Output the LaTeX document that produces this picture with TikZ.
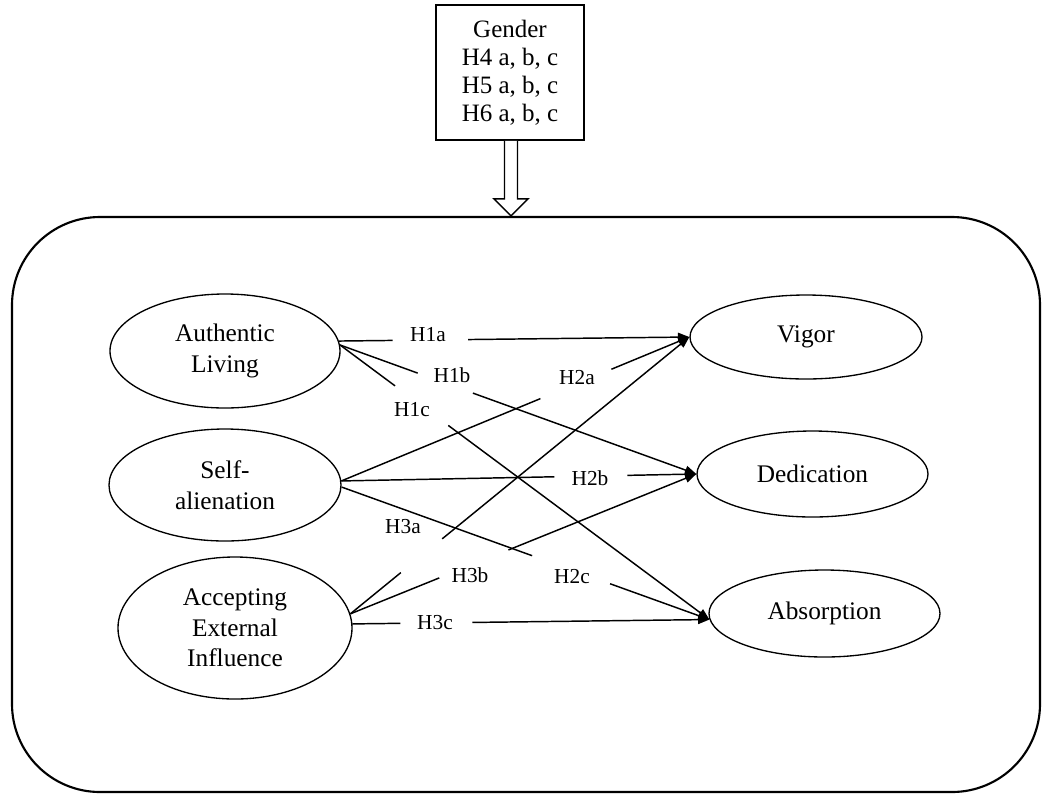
\documentclass[tikz,border=0pt]{standalone}
\usepackage{fontspec}
\setmainfont{Liberation Serif}
\usetikzlibrary{shapes.geometric,arrows.meta,calc}
\begin{document}
\begin{tikzpicture}[x=0.75pt,y=-0.75pt,
  ell/.style={ellipse, draw, line width=1pt, inner sep=0pt, align=center,
    font=\fontsize{19}{23}\selectfont},
  conn/.style={line width=1.1pt, -{Triangle[length=8.5pt,width=6.5pt]}},
  lbl/.style={font=\fontsize{16}{18}\selectfont, inner sep=0pt},
  hollow/.style={line width=1.1pt, fill=white, line join=miter}]
\useasboundingbox (0,0) rectangle (1042,794);

% outer frame
\node[draw, rounded corners=66pt, line width=1.6pt, minimum width=771pt,
  minimum height=431.25pt, inner sep=0pt] (frame) at (526,504.5) {};

% moderator box
\node[draw, line width=1.4pt, minimum width=111pt, minimum height=101.25pt,
  inner sep=0pt, align=center, font=\fontsize{18.75}{21}\selectfont]
  (g) at (510,72.5) {Gender\\H4 a, b, c\\H5 a, b, c\\H6 a, b, c};

% hollow arrow
\coordinate (tip) at ($(g.south |- frame.north)+(1,0)$);
\draw[hollow] ($(g.south)+(-5.5,0)$) -- ($(tip)+(-6.5,-17)$) -- ($(tip)+(-17,-17)$)
  -- (tip) -- ($(tip)+(17,-17)$) -- ($(tip)+(6.5,-17)$) -- ($(g.south)+(7.5,0)$);

% left constructs
\node[ell, minimum width=172.5pt, minimum height=85.5pt] (al) at (225,351) {Authentic\\Living};
\node[ell, minimum width=174pt, minimum height=84pt] (sa) at (225,485) {Self-\\alienation};
\node[ell, minimum width=175.5pt, minimum height=106.5pt] (ae) at (235,628) {Accepting\\External\\Influence};

% right constructs
\node[ell, minimum width=174pt, minimum height=63pt] (vi) at (806,337) {Vigor};
\node[ell, minimum width=173.25pt, minimum height=64.5pt] (de) at (812.5,474) {Dedication};
\node[ell, minimum width=173.25pt, minimum height=65.25pt] (ab) at (824.5,613.5) {Absorption};

% labels
\node[lbl] (h1a) at (428,335) {H1a};
\node[lbl] (h1b) at (452,375) {H1b};
\node[lbl] (h1c) at (412,410) {H1c};
\node[lbl] (h2a) at (577,378) {H2a};
\node[lbl] (h2b) at (590,478) {H2b};
\node[lbl] (h2c) at (572,577) {H2c};
\node[lbl] (h3a) at (403,527) {H3a};
\node[lbl] (h3b) at (470,575) {H3b};
\node[lbl] (h3c) at (435,623) {H3c};

% connectors (each with a gap for its label)
\draw[conn] (al.5) -- ($(al.5)!0.153!(vi.west)$) ($(al.5)!0.369!(vi.west)$) -- (vi.west);
\draw[conn] (al.3) -- ($(al.3)!0.218!(de.west)$) ($(al.3)!0.373!(de.west)$) -- (de.west);
\draw[conn] (al.3) -- ($(al.3)!0.149!(ab.183)$) ($(al.3)!0.293!(ab.183)$) -- (ab.183);

\draw[conn] (sa.2) -- ($(sa.2)!0.572!(vi.west)$) ($(sa.2)!0.776!(vi.west)$) -- (vi.west);
\draw[conn] (sa.2) -- ($(sa.2)!0.600!(de.west)$) ($(sa.2)!0.806!(de.west)$) -- (de.west);
\draw[conn] (sa.-1) -- ($(sa.-1)!0.518!(ab.183)$) ($(sa.-1)!0.730!(ab.183)$) -- (ab.183);

\draw[conn] (ae.7) -- ($(ae.7)!0.149!(vi.west)$) ($(ae.7)!0.271!(vi.west)$) -- (vi.west);
\draw[conn] (ae.7) -- ($(ae.7)!0.257!(de.west)$) ($(ae.7)!0.457!(de.west)$) -- (de.west);
\draw[conn] (ae.2) -- ($(ae.2)!0.134!(ab.183)$) ($(ae.2)!0.336!(ab.183)$) -- (ab.183);
\end{tikzpicture}
\end{document}
